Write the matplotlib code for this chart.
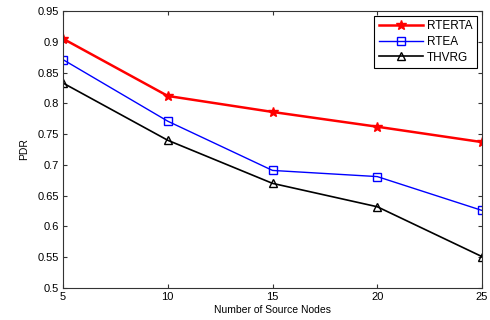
import numpy as np
import matplotlib
matplotlib.use("Agg")
import matplotlib.pyplot as plt

# --- data ---
nodes = [5, 10, 15, 20, 25]
rterta = [0.905, 0.812, 0.786, 0.762, 0.737]
rtea = [0.871, 0.771, 0.691, 0.681, 0.626]
thvrg = [0.833, 0.740, 0.670, 0.632, 0.551]
yticks = [0.5, 0.55, 0.6, 0.65, 0.7, 0.75, 0.8, 0.85, 0.9, 0.95]

plt.rcParams['font.family'] = ['Liberation Sans', 'DejaVu Sans']

fig = plt.figure(figsize=(4.9, 3.2), dpi=100)
ax = fig.add_axes([63/490, 1 - 288/320, (482-63)/490, (288-11)/320])

ax.plot(nodes, rterta, color="red", lw=1.8, marker="*", ms=7, label="RTERTA")
ax.plot(nodes, rtea, color="blue", lw=1, marker="s", ms=6, mfc="none", mew=1, label="RTEA")
ax.plot(nodes, thvrg, color="black", lw=1.2, marker="^", ms=6, mfc="none", mew=1, label="THVRG")

ax.set_xlim(5, 25)
ax.set_ylim(0.5, 0.95)
ax.set_xticks(nodes)
ax.set_xticklabels([str(v) for v in nodes])
ax.set_yticks(yticks)
ax.set_yticklabels([f"{v:g}" for v in yticks])
ax.tick_params(direction="in", top=True, right=True, labelsize=8, length=3, pad=3,
               color="#333333")
for s in ax.spines.values():
    s.set_color("#333333")
    s.set_linewidth(0.8)

ax.set_xlabel("Number of Source Nodes", fontsize=7.5, labelpad=2)
ax.set_ylabel("PDR", fontsize=7.5, labelpad=6)

leg = ax.legend(loc="upper right", fontsize=8.5, fancybox=False, framealpha=1,
                edgecolor="black", borderpad=0.35, labelspacing=0.3,
                handlelength=3.8, handletextpad=0.3, borderaxespad=0.45)
leg.get_frame().set_linewidth(0.8)

plt.savefig("out.png", dpi=100)
plt.close(fig)
